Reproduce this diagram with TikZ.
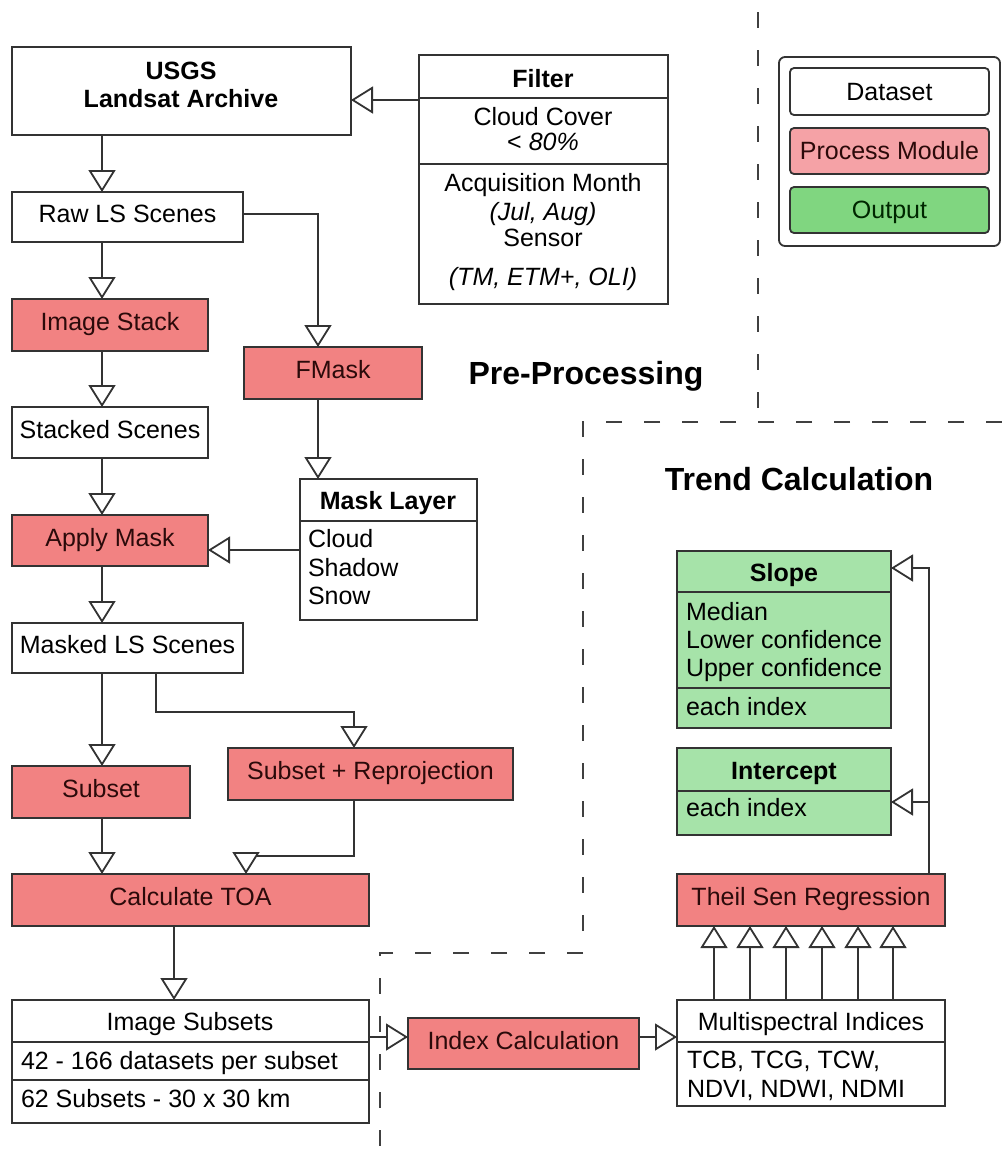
\documentclass[tikz,border=0pt]{standalone}
\usepackage{fontspec}
\setmainfont{Liberation Sans}
\usetikzlibrary{arrows.meta}
\definecolor{proc}{HTML}{F28282}
\definecolor{outg}{HTML}{A6E3A9}
\definecolor{legproc}{HTML}{F5A2A6}
\definecolor{legout}{HTML}{80D680}
\definecolor{edge}{HTML}{333333}
\definecolor{proctext}{HTML}{2B0A0A}
\newcommand\fs{\fontsize{12.5pt}{14pt}\selectfont}
\newcommand\titlefs{\fontsize{16pt}{19pt}\selectfont\bfseries}
\newcommand\mybox[7]{\node[#2, minimum width={(#5-#3)*0.5pt}, minimum height={(#6-#4)*0.5pt}] (#1) at ({(#3+#5)/2},{(#4+#6)/2}) {#7};}
\tikzset{
  base/.style={draw=edge, line width=0.9pt, inner sep=0pt, outer sep=0pt, font=\fs, text height=8.9pt, text depth=3pt},
  dataset/.style={base, fill=white},
  process/.style={base, fill=proc, text=proctext},
  outbox/.style={base, fill=outg},
  legbox/.style={draw=edge, line width=0.9pt, inner sep=0pt, outer sep=0pt, font=\fs, text height=8.9pt, text depth=0pt, rounded corners=2pt},
  txt/.style={inner sep=0pt, outer sep=0pt, font=\fs, text height=8.9pt, text depth=0pt},
  sectitle/.style={inner sep=0pt, font=\titlefs, text height=11.5pt, text depth=0pt},
  divider/.style={draw=edge, line width=0.9pt},
  arr/.style={draw=edge, line width=0.9pt, -{Triangle[length=11pt, width=13.5pt, fill=white]}},
  dsh/.style={draw=black!75, line width=0.8pt, dash pattern=on 8pt off 11pt},
}
\begin{document}
\begin{tikzpicture}[x=0.5pt, y=-0.5pt]
\useasboundingbox (0,0) rectangle (1002,1153);

% ---------- section separators ----------
\draw[dsh] (758,12) -- (758,422);
\draw[dsh] (1002,422) -- (583,422) -- (583,953) -- (380,953) -- (380,1153);

% ---------- section titles ----------
\node[sectitle] (tpre) at (586,373) {Pre-Processing};
\node[sectitle] (ttrend) at (799,479) {Trend Calculation};

% ---------- legend ----------
\mybox{legend}{legbox, rounded corners=3pt, fill=white}{779}{57}{1000}{246}{}
\mybox{legdata}{legbox, fill=white}{790}{68}{989}{115}{Dataset}
\mybox{legproc}{legbox, fill=legproc, text=proctext}{790}{128}{989}{174}{Process Module}
\mybox{legout}{legbox, fill=legout, text=black!85!green}{790}{187}{989}{233}{Output}

% ---------- USGS archive ----------
\mybox{usgs}{dataset}{12}{47}{351}{135}{}
\node[txt, font=\fs\bfseries] (usgs1) at (181,71) {USGS};
\node[txt, font=\fs\bfseries] (usgs2) at (181,99) {Landsat Archive};

% ---------- Filter ----------
\mybox{filter}{dataset}{419}{55}{668}{304}{}
\draw[divider] (filter.west |- 0,98) -- (filter.east |- 0,98);
\draw[divider] (filter.west |- 0,164) -- (filter.east |- 0,164);
\node[txt, font=\fs\bfseries] (fil1) at (543,79) {Filter};
\node[txt] (fil2) at (543,117) {Cloud Cover};
\node[txt] (fil3) at (543,142) {<~\textit{80\%}};
\node[txt] (fil4) at (543,183) {Acquisition Month};
\node[txt] (fil5) at (543,212) {\textit{(Jul, Aug)}};
\node[txt] (fil6) at (543,238) {Sensor};
\node[txt] (fil7) at (543,277) {\textit{(TM, ETM+, OLI)}};

% ---------- left column ----------
\mybox{raw}{dataset}{12}{192}{243}{242}{Raw LS Scenes}
\mybox{imgstack}{process}{12}{299}{208}{351}{Image Stack}
\mybox{fmask}{process}{244}{347}{422}{399}{FMask}
\mybox{stacked}{dataset}{12}{407}{208}{458}{Stacked Scenes}
\mybox{apply}{process}{12}{515}{208}{566}{Apply Mask}
\mybox{masklayer}{dataset}{300}{479}{477}{620}{}
\draw[divider] (masklayer.west |- 0,521) -- (masklayer.east |- 0,521);
\node[txt, font=\fs\bfseries] (ml1) at (388,501) {Mask Layer};
\node[txt, anchor=west] (ml2) at (308,539) {Cloud};
\node[txt, anchor=west] (ml3) at (308,568) {Shadow};
\node[txt, anchor=west] (ml4) at (308,596) {Snow};
\mybox{masked}{dataset}{12}{623}{243}{673}{Masked LS Scenes}
\mybox{subset}{process}{12}{766}{190}{818}{Subset}
\mybox{subrep}{process}{228}{748}{513}{800}{Subset + Reprojection}
\mybox{toa}{process}{12}{874}{369}{926}{Calculate TOA}
\mybox{imgsub}{dataset}{12}{1000}{369}{1123}{}
\draw[divider] (imgsub.west |- 0,1042) -- (imgsub.east |- 0,1042);
\draw[divider] (imgsub.west |- 0,1080) -- (imgsub.east |- 0,1080);
\node[txt] (is1) at (190,1022) {Image Subsets};
\node[txt, anchor=west] (is2) at (21,1061) {42 - 166 datasets per subset};
\node[txt, anchor=west] (is3) at (21,1099) {62 Subsets - 30 x 30 km};

% ---------- trend calculation ----------
\mybox{indexcalc}{process}{408}{1018}{639}{1069}{Index Calculation}
\mybox{multi}{dataset}{677}{1000}{945}{1106}{}
\draw[divider] (multi.west |- 0,1042) -- (multi.east |- 0,1042);
\node[txt] (mu1) at (811,1022) {Multispectral Indices};
\node[txt, anchor=west] (mu2) at (687,1060) {TCB, TCG, TCW,};
\node[txt, anchor=west] (mu3) at (687,1089) {NDVI, NDWI, NDMI};
\mybox{theil}{process}{677}{874}{945}{926}{Theil Sen Regression}
\mybox{slope}{outbox}{677}{551}{891}{728}{}
\draw[divider] (slope.west |- 0,592) -- (slope.east |- 0,592);
\draw[divider] (slope.west |- 0,688) -- (slope.east |- 0,688);
\node[txt, font=\fs\bfseries] (sl1) at (784,573) {Slope};
\node[txt, anchor=west] (sl2) at (686,612) {Median};
\node[txt, anchor=west] (sl3) at (686,640) {Lower confidence};
\node[txt, anchor=west] (sl4) at (686,668) {Upper confidence};
\node[txt, anchor=west] (sl5) at (686,707) {each index};
\mybox{intercept}{outbox}{677}{748}{891}{835}{}
\draw[divider] (intercept.west |- 0,791) -- (intercept.east |- 0,791);
\node[txt, font=\fs\bfseries] (ic1) at (784,771) {Intercept};
\node[txt, anchor=west] (ic2) at (686,808) {each index};

% ---------- helper coordinates ----------
\coordinate (cA) at (102,0);
\coordinate (cF) at (318,0);
\coordinate (cM) at (156,0);
\coordinate (cR) at (354,0);
\coordinate (cT) at (246,0);
\coordinate (cO) at (174,0);
\coordinate (cJ) at (929,0);
\coordinate (rF) at (0,100);
\coordinate (rR) at (0,214);
\coordinate (rML) at (0,550);
\coordinate (rM1) at (0,712);
\coordinate (rT1) at (0,856);
\coordinate (rI) at (0,1037);
\coordinate (rS) at (0,568);
\coordinate (rIc) at (0,802);

% ---------- connectors ----------
\draw[arr] (filter.west |- rF) -- (usgs.east |- rF);
\draw[arr] (usgs.south -| cA) -- (raw.north -| cA);
\draw[arr] (raw.south -| cA) -- (imgstack.north -| cA);
\draw[arr] (raw.east |- rR) -- (rR -| cF) -- (fmask.north -| cF);
\draw[arr] (imgstack.south -| cA) -- (stacked.north -| cA);
\draw[arr] (stacked.south -| cA) -- (apply.north -| cA);
\draw[arr] (fmask.south -| cF) -- (masklayer.north -| cF);
\draw[arr] (masklayer.west |- rML) -- (apply.east |- rML);
\draw[arr] (apply.south -| cA) -- (masked.north -| cA);
\draw[arr] (masked.south -| cA) -- (subset.north -| cA);
\draw[arr] (masked.south -| cM) -- (rM1 -| cM) -- (rM1 -| cR) -- (subrep.north -| cR);
\draw[arr] (subset.south -| cA) -- (toa.north -| cA);
\draw[arr] (subrep.south -| cR) -- (rT1 -| cR) -- (rT1 -| cT) -- (toa.north -| cT);
\draw[arr] (toa.south -| cO) -- (imgsub.north -| cO);
\draw[arr] (imgsub.east |- rI) -- (indexcalc.west |- rI);
\draw[arr] (indexcalc.east |- rI) -- (multi.west |- rI);
\foreach \xx in {714,750,786,822,858,893} {
  \draw[arr] (multi.north -| \xx,0) -- (theil.south -| \xx,0);
}
\draw[arr] (theil.north -| cJ) -- (rS -| cJ) -- (slope.east |- rS);
\draw[arr] (rIc -| cJ) -- (intercept.east |- rIc);
\end{tikzpicture}
\end{document}
